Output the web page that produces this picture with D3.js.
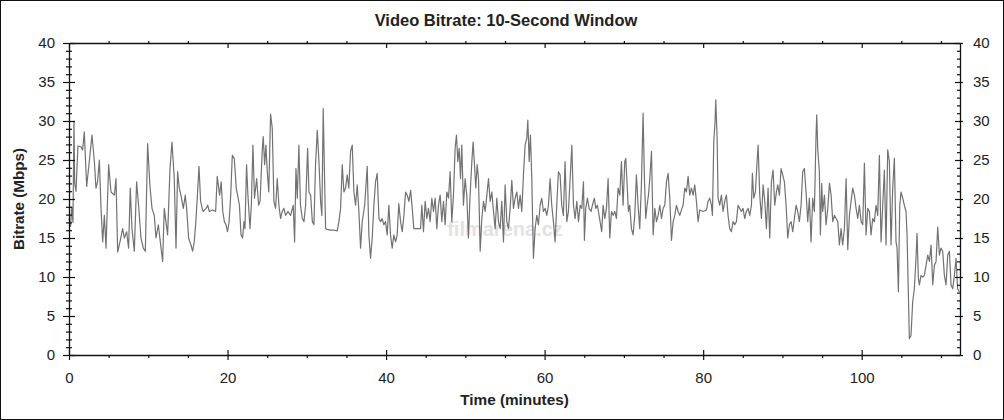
<!DOCTYPE html>
<html><head><meta charset="utf-8">
<script src="https://cdn.jsdelivr.net/npm/d3@7"></script>
<style>body{margin:0;background:#fff}svg{display:block}</style>
</head><body><svg id="c" width="1004" height="420"></svg>
<script>
// [minute, Mbps]
const samples = [
[0,17.5],[0.2,16.5],[0.35,19],[0.5,17],[0.63,30],[0.72,22],[0.88,21],[1.13,26.8],[1.51,26.7],[1.72,26.3],[1.93,28.6],[2.23,21.6],[2.56,24.8],[2.9,28.2],[3.2,24.8],[3.4,21.4],[3.6,22.2],[3.83,25.0],[4.04,18.8],[4.25,14.5],[4.46,17.9],[4.67,13.7],[5.0,24.4],[5.3,20.9],[5.72,20.5],[5.93,22.6],[6.14,13.2],[6.43,14.5],[6.77,16.2],[6.98,15.0],[7.27,15.8],[7.52,13.7],[7.73,21.4],[7.94,16.2],[8.24,13.3],[8.53,22.2],[8.78,19.2],[9.08,15.0],[9.37,13.7],[9.63,13.3],[9.92,27.1],[10.2,21.8],[10.47,18.8],[10.76,17.9],[10.97,15.0],[11.27,16.7],[11.52,14.5],[11.81,12.0],[12.02,18.8],[12.23,17.1],[12.44,15.4],[12.74,23.9],[12.99,27.3],[13.28,22.6],[13.5,13.7],[13.7,23.5],[13.91,21.4],[14.12,20.5],[14.42,18.8],[14.67,20.5],[14.84,18.8],[15.09,15.0],[15.39,14.1],[15.6,13.3],[15.8,14.5],[16.0,17.1],[16.2,20.5],[16.4,24.2],[16.6,19.7],[16.9,18.4],[17.3,18.8],[17.5,19.2],[17.7,18.4],[18.1,18.6],[18.5,18.4],[18.7,22.9],[19.0,20.5],[19.2,22.2],[19.4,18.4],[19.6,17.1],[19.8,16.7],[20.0,15.8],[20.2,17.1],[20.4,20.5],[20.6,25.6],[20.85,25.2],[21.1,21.4],[21.5,19.2],[21.7,15.4],[21.9,15.0],
[22.07,17.1],[22.2,16.2],[22.4,24.4],[22.57,20.5],[22.83,16.2],[23.0,19.2],[23.2,26.9],[23.4,20.1],[23.67,22.6],[23.92,19.2],[24.1,19.7],[24.38,26.3],[24.5,28.0],[24.68,24.4],[24.84,26.9],[25.0,23.7],[25.2,20.9],[25.43,30.9],[25.64,29.1],[25.85,19.7],[26.06,18.8],[26.27,22.6],[26.48,19.2],[26.69,17.5],[26.9,18.4],[27.11,18.8],[27.32,17.9],[27.62,18.4],[27.95,17.9],[28.29,19.2],[28.46,14.5],[28.63,23.9],[28.8,20.1],[29.0,26.9],[29.2,19.2],[29.43,17.5],[29.64,17.1],[29.85,19.2],[30.1,26.5],[30.27,20.9],[30.48,20.5],[30.7,17.1],[30.9,16.7],[31.1,24.4],[31.32,28.8],[31.53,24.8],[31.74,19.7],[31.9,17.9],[32.07,31.6],[32.24,22.6],[32.37,16.2],[32.58,16.1],[33.0,16.0],[33.42,16.0],[33.84,15.9],[34.05,17.1],[34.26,18.8],[34.47,24.4],[34.68,20.9],[34.89,21.4],[35.1,23.1],[35.3,21.4],[35.52,26.1],[35.73,26.9],[35.94,20.9],[36.15,19.2],[36.36,21.8],[36.57,18.4],[36.78,13.7],[36.99,17.1],[37.3,19.2],[37.62,24.2],[37.83,15.4],[38.04,12.4],[38.25,15.0],[38.46,19.2],[38.67,22.2],[38.88,23.3],[39.1,17.5],[39.3,17.1],[39.5,17.5],[39.72,16.7],[39.93,17.1],[40.14,15.4],[40.35,19.2],[40.56,15.4],[40.77,13.7],[40.98,15.4],[41.2,14.5],[41.4,15.4],[41.6,19.4],[41.83,17.1],[42.04,15.8],[42.25,17.9],[42.46,20.9],[42.67,20.5],[42.88,19.7],[43.1,21.1],[43.3,18.8],[43.5,16.2],[43.93,16.2],[44.35,16.2],
[44.51,19.2],[44.72,15.8],[44.93,19.7],[45.14,17.5],[45.35,18.8],[45.56,17.1],[45.77,20.1],[45.98,18.4],[46.19,20.1],[46.4,16.2],[46.61,19.2],[46.82,20.5],[47.03,17.1],[47.24,19.7],[47.45,16.7],[47.66,20.9],[47.87,20.1],[48.08,23.5],[48.29,17.1],[48.5,20.5],[48.71,26.5],[48.88,28.2],[49.05,24.8],[49.22,26.5],[49.39,22.6],[49.55,26.9],[49.76,19.2],[49.97,22.6],[50.18,20.5],[50.39,15.0],[50.6,20.5],[50.82,24.8],[50.98,27.3],[51.15,24.4],[51.32,21.4],[51.49,24.4],[51.66,22.6],[51.87,13.3],[52.08,17.5],[52.29,19.7],[52.5,18.4],[52.71,20.5],[52.92,22.6],[53.13,19.7],[53.34,20.9],[53.55,18.4],[53.76,16.2],[53.97,20.1],[54.18,17.1],[54.39,16.2],[54.6,19.7],[54.81,14.5],[55.02,21.8],[55.23,17.1],[55.44,16.2],[55.65,18.8],[55.86,22.4],[56.07,18.8],[56.28,20.1],[56.49,20.9],[56.7,18.8],[56.91,20.5],[57.12,18.4],[57.33,23.1],[57.54,26.9],[57.75,27.8],[57.88,30.1],[58.05,24.8],[58.21,28.2],[58.38,22.6],[58.59,12.4],[58.8,16.2],[59.01,17.9],[59.22,16.7],[59.43,19.2],[59.64,20.1],[59.85,18.4],[60.06,18.8],[60.27,17.9],[60.48,19.2],[60.69,22.6],[60.9,19.2],[61.11,17.1],[61.32,14.5],[61.53,19.2],[61.74,23.5],[61.95,23.1],[62.16,19.2],[62.37,17.9],[62.58,24.8],[62.8,17.1],[63.0,18.4],[63.22,22.6],[63.43,26.9],[63.64,19.2],[63.85,17.5],[64.06,19.7],[64.27,17.1],[64.48,19.2],[64.69,18.8],[64.9,22.2],[65.02,14.7],[65.19,18.8],[65.4,20.1],[65.61,18.8],[65.86,18.4],[66.03,19.2],[66.28,20.1],[66.45,18.8],[66.66,19.2],[66.87,17.9],[67.2,15.8],
[67.38,19.2],[67.59,17.5],[67.8,18.8],[68.01,22.6],[68.22,15.0],[68.43,18.4],[68.64,17.9],[68.85,18.4],[69.06,17.5],[69.27,21.4],[69.48,20.5],[69.69,24.8],[69.9,19.2],[70.11,24.8],[70.24,25.2],[70.41,21.8],[70.57,18.4],[70.74,19.2],[70.95,16.2],[71.16,15.4],[71.37,17.9],[71.58,23.1],[71.79,19.2],[72.0,16.2],[72.21,21.8],[72.42,31.0],[72.59,22.6],[72.76,17.5],[72.93,19.2],[73.1,20.5],[73.27,22.6],[73.48,26.1],[73.69,15.4],[73.9,18.8],[74.11,17.1],[74.32,17.9],[74.53,19.2],[74.74,17.5],[74.95,18.8],[75.16,19.2],[75.37,22.2],[75.58,23.3],[75.79,20.1],[76.0,14.7],[76.21,17.1],[76.42,17.9],[76.63,19.2],[76.84,18.4],[77.05,17.9],[77.26,18.6],[77.47,19.2],[77.68,21.4],[77.89,20.9],[78.1,22.9],[78.31,20.5],[78.52,21.4],[78.73,20.5],[78.94,21.8],[79.15,19.7],[79.36,17.1],[79.57,18.6],[79.99,18.4],[80.41,18.6],[80.62,19.7],[80.83,20.1],[81.04,19.2],[81.17,17.9],[81.34,27.4],[81.5,29.9],[81.59,32.7],[81.76,27.8],[81.88,20.1],[82.09,19.2],[82.3,20.5],[82.51,18.4],[82.72,19.7],[82.93,20.5],[83.14,17.9],[83.35,16.2],[83.56,15.8],[83.77,17.1],[83.98,16.7],[84.19,17.1],[84.4,19.2],[84.61,18.8],[84.82,18.4],[85.03,18.8],[85.24,17.5],[85.45,18.4],[85.67,18.8],[85.88,17.9],[86.09,19.2],[86.21,23.3],[86.38,20.1],[86.59,20.9],[86.8,24.8],[86.93,26.9],[87.14,20.5],[87.35,17.5],[87.56,21.8],[87.77,19.7],[87.98,16.2],[88.19,21.4],[88.4,15.0],[88.61,22.2],[88.82,23.7],[89.03,19.2],[89.24,20.9],
[89.41,21.8],[89.62,20.5],[89.83,23.9],[90.04,23.1],[90.25,22.2],[90.46,19.2],[90.67,15.0],[90.88,16.7],[91.09,17.1],[91.3,15.8],[91.51,17.5],[91.72,19.2],[91.93,18.4],[92.14,17.1],[92.35,19.2],[92.56,23.5],[92.77,23.9],[92.98,20.9],[93.19,17.1],[93.4,20.1],[93.61,14.5],[93.82,20.1],[94.03,18.4],[94.24,28.2],[94.33,30.8],[94.45,26.5],[94.66,23.5],[94.79,15.4],[94.96,22.0],[95.08,18.4],[95.3,20.5],[95.5,16.7],[95.72,18.8],[95.93,22.0],[96.14,20.5],[96.35,17.1],[96.56,17.9],[96.77,17.5],[96.98,17.1],[97.19,14.1],[97.4,16.2],[97.6,14.1],[97.82,16.2],[98.03,22.6],[98.24,13.5],[98.45,17.9],[98.66,19.7],[98.87,21.4],[99.08,20.5],[99.29,18.8],[99.5,17.5],[99.71,19.2],[99.92,17.1],[100.13,16.7],[100.34,24.6],[100.55,15.4],[100.76,18.8],[100.97,18.4],[101.18,15.4],[101.39,17.5],[101.6,17.1],[101.81,19.2],[102.02,17.9],[102.23,25.6],[102.44,14.5],[102.65,19.2],[102.86,23.7],[103.07,14.1],[103.28,26.3],[103.49,24.8],[103.7,14.1],[103.91,21.4],[104.12,25.2],[104.33,14.5],[104.46,13.7],[104.63,8.1],[104.8,19.2],[104.96,20.9],[105.17,20.1],[105.38,19.2],[105.59,18.4],[105.72,15.4],[105.89,7.7],[106.01,2.1],[106.22,2.5],[106.43,6.8],[106.64,8.5],[106.85,12.4],[106.98,15.6],[107.15,9.8],[107.28,9.0],[107.48,10.2],[107.7,10.0],[107.9,10.2],[108.12,11.5],[108.33,12.8],[108.54,12.0],[108.75,14.1],[108.96,9.0],[109.17,11.5],[109.38,12.0],[109.59,16.4],[109.8,12.8],[110.0,13.7],[110.22,13.3],[110.43,10.2],[110.64,9.0],[110.85,12.8],[111.06,13.3],[111.27,9.0],[111.48,8.5],[111.69,10.2],[111.9,12.4],[112.1,8.5],[112.3,8.1]
];
const xMajorTicks = [0,20,40,60,80,100];
const xMinorTicks = d3.range(5,113,5).filter(v => v % 20 !== 0);
const yMajorTicks = [0,5,10,15,20,25,30,35,40];
const yMinorTicks = d3.range(1,40,1).filter(v => v % 5 !== 0);
const titleText = "Video Bitrate: 10-Second Window";
const xLabel = "Time (minutes)";
const yLabel = "Bitrate (Mbps)";

const svg = d3.select("#c");
const L = 69, R = 960, T = 43, B = 355;
const font = "'Liberation Sans', Arial, sans-serif";
const x = d3.scaleLinear().domain([0,112.4]).range([L,R]);
const y = d3.scaleLinear().domain([0,40]).range([B,T]);

svg.append("rect").attr("x",0.5).attr("y",0.5).attr("width",1003).attr("height",419)
  .attr("fill","#fff").attr("stroke","#111").attr("stroke-width",1);

// watermark
svg.append("text").attr("x",505).attr("y",236).attr("text-anchor","middle")
  .attr("font-family",font).attr("font-size",20).attr("font-weight","bold")
  .attr("fill","#dcdcdc").attr("opacity",0.8).text("filmarena.cz");

// data line
svg.append("path").datum(samples)
  .attr("d", d3.line().x(d => x(d[0])).y(d => y(d[1])))
  .attr("fill","none").attr("stroke","#727272").attr("stroke-width",1.2)
  .attr("stroke-linejoin","round");

function styleAxis(g){
  g.select(".domain").attr("stroke","#111").attr("stroke-width",1.3);
  g.selectAll("line").attr("stroke","#111").attr("stroke-width",1.2);
  g.selectAll("text").attr("font-family",font).attr("font-size",15).attr("fill","#222");
}

// bottom axis major (crossing)
const gB = svg.append("g").attr("transform",`translate(0,${B})`)
  .call(d3.axisBottom(x).tickValues(xMajorTicks).tickSize(5).tickPadding(12).tickFormat(d3.format("d")).tickSizeOuter(0));
gB.selectAll(".tick line").attr("y1",-5).attr("y2",5);
styleAxis(gB);
const gBm = svg.append("g").attr("transform",`translate(0,${B})`)
  .call(d3.axisBottom(x).tickValues(xMinorTicks).tickSize(3).tickFormat(""));
gBm.select(".domain").remove(); styleAxis(gBm);

// top axis
const gT = svg.append("g").attr("transform",`translate(0,${T})`)
  .call(d3.axisTop(x).tickValues(xMajorTicks).tickSize(-5).tickFormat("").tickSizeOuter(0));
styleAxis(gT);
const gTm = svg.append("g").attr("transform",`translate(0,${T})`)
  .call(d3.axisTop(x).tickValues(xMinorTicks).tickSize(2).tickFormat(""));
gTm.select(".domain").remove(); styleAxis(gTm);

// left axis
const gL = svg.append("g").attr("transform",`translate(${L},0)`)
  .call(d3.axisLeft(y).tickValues(yMajorTicks).tickSize(6).tickPadding(8).tickSizeOuter(0));
gL.selectAll(".tick line").attr("x1",6).attr("x2",-6);
styleAxis(gL);
const gLm = svg.append("g").attr("transform",`translate(${L},0)`)
  .call(d3.axisLeft(y).tickValues(yMinorTicks).tickSize(3).tickFormat(""));
gLm.selectAll(".tick line").attr("x1",3);
gLm.select(".domain").remove(); styleAxis(gLm);

// right axis
const gR = svg.append("g").attr("transform",`translate(${R},0)`)
  .call(d3.axisRight(y).tickValues(yMajorTicks).tickSize(5).tickPadding(8).tickSizeOuter(0));
gR.selectAll(".tick line").attr("x1",-5).attr("x2",3);
styleAxis(gR);
const gRm = svg.append("g").attr("transform",`translate(${R},0)`)
  .call(d3.axisRight(y).tickValues(yMinorTicks).tickSize(1).tickFormat(""));
gRm.selectAll(".tick line").attr("x1",-3);
gRm.select(".domain").remove(); styleAxis(gRm);

// titles
svg.append("text").attr("x",506).attr("y",26).attr("text-anchor","middle")
  .attr("font-family",font).attr("font-size",16.5).attr("font-weight","bold").attr("fill","#222")
  .text(titleText);
svg.append("text").attr("x",(L+R)/2).attr("y",405).attr("text-anchor","middle")
  .attr("font-family",font).attr("font-size",15.3).attr("font-weight","bold").attr("fill","#222")
  .text(xLabel);
svg.append("text").attr("transform",`translate(24,${(T+B)/2}) rotate(-90)`).attr("text-anchor","middle")
  .attr("font-family",font).attr("font-size",15.2).attr("font-weight","bold").attr("fill","#222")
  .text(yLabel);
</script>
</body></html>
